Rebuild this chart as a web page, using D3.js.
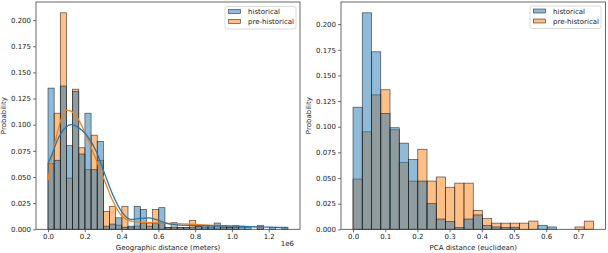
<!DOCTYPE html>
<html><head><meta charset="utf-8">
<script src="https://cdn.jsdelivr.net/npm/d3@7"></script>
<style>
body{margin:0;background:#fff}
svg text{font-family:"DejaVu Sans",sans-serif;fill:#222}
</style>
</head><body>
<svg id="c" width="608" height="253"></svg>
<script>
// ---------- data ----------
const seriesNames = ["historical", "pre-historical"];
const seriesColors = ["#1f77b4", "#ff7f0e"];

// Left: geographic distance (x 1e6 m), 39 equal bins over [0, geoMax]
const geoMax = 1.305;
const geoHist = [0.135,0.066,0.137,0.080,0.132,0.072,0.111,0.057,0.084,0.003,
  0.005,0.011,0.002,0.003,0.022,0.019,0.003,0.006,0.0207,0.0016,
  0.002,0.0016,0.0016,0.002,0.0025,0.0038,0.0038,0.006,0.0016,0.0016,
  0.0016,0.0016,0.0016,0,0.0025,0,0.0016,0,0.002];
const geoPre = [0.063,0.111,0.207,0.049,0.134,0.078,0.057,0.090,0.066,0.017,
  0.022,0.004,0.022,0.002,0.003,0.006,0.006,0.019,0.006,0.0016,
  0.0063,0.0016,0.0016,0.0083,0.0025,0.0016,0.0016,0.0038,0.0038,0.0016,
  0.0038,0,0,0,0.0038,0,0,0,0];
const geoKdeHistX = [0,0.027,0.05,0.075,0.1,0.127,0.16,0.21,0.264,0.3,0.35,0.4,0.45,0.5,0.55,0.6,0.65,0.7,0.8,0.9,1.0,1.1,1.2,1.305];
const geoKdeHistY = [0.063,0.074,0.085,0.093,0.098,0.100,0.098,0.090,0.074,0.057,0.034,0.017,0.0095,0.0105,0.011,0.0085,0.0055,0.0042,0.0036,0.0033,0.003,0.0025,0.002,0.0015];
const geoKdePreX = [0,0.025,0.05,0.075,0.1,0.125,0.155,0.21,0.245,0.3,0.35,0.4,0.45,0.5,0.6,0.7,0.8,0.9,1.0,1.1,1.17];
const geoKdePreY = [0.047,0.072,0.092,0.107,0.114,0.113,0.108,0.089,0.074,0.050,0.028,0.013,0.0078,0.0068,0.0062,0.0055,0.0048,0.0038,0.003,0.0025,0.002];
const geoXTicks = [0,0.2,0.4,0.6,0.8,1.0,1.2];
const geoYTicks = [0,0.025,0.05,0.075,0.1,0.125,0.15,0.175,0.2];

// Right: PCA distance, 26 equal bins over [0, pcaMax]
const pcaMax = 0.747;
const pcaHist = [0.119,0.211,0.173,0.113,0.099,0.084,0.068,0.047,0.025,0.010,
  0.0075,0.0016,0.010,0.014,0.0036,0.0023,0.0016,0.002,0,0,
  0.0039,0.0023,0,0,0,0];
const pcaPre = [0.049,0.095,0.131,0.136,0.097,0.065,0.047,0.078,0.047,0.051,
  0.041,0.045,0.045,0.0185,0.0104,0.006,0.006,0.006,0.006,0.008,
  0,0,0,0,0.0023,0.008];
const pcaXTicks = [0,0.1,0.2,0.3,0.4,0.5,0.6,0.7];
const pcaYTicks = [0,0.025,0.05,0.075,0.1,0.125,0.15,0.175,0.2];

// ---------- drawing ----------
const svg = d3.select("#c");

function panel(o) {
  const g = svg.append("g");
  const n = o.hist.length, bw = o.max / n;
  const x = d3.scaleLinear().domain([-0.05 * o.max, 1.05 * o.max]).range([o.x0, o.x1]);
  const yMax = d3.max(o.hist.concat(o.pre)) * 1.05;
  const y = d3.scaleLinear().domain([0, yMax]).range([o.y1, o.y0]);

  const layers = [{vals: o.pre, c: seriesColors[1]}, {vals: o.hist, c: seriesColors[0]}];
  layers.forEach(L => {
    g.append("g").selectAll("rect").data(L.vals.map((v, i) => ({v, i})).filter(d => d.v > 0))
      .join("rect")
      .attr("x", d => x(d.i * bw)).attr("width", d => x((d.i + 1) * bw) - x(d.i * bw))
      .attr("y", d => y(d.v)).attr("height", d => y(0) - y(d.v))
      .attr("fill", L.c).attr("fill-opacity", 0.5)
      .attr("stroke", "#1a1a1a").attr("stroke-opacity", 0.75).attr("stroke-width", 0.7);
  });

  if (o.kde) {
    const clipId = "clip" + o.x0;
    svg.append("clipPath").attr("id", clipId).append("rect")
      .attr("x", o.x0).attr("y", o.y0).attr("width", o.x1 - o.x0).attr("height", o.y1 - o.y0);
    o.kde.forEach(k => {
      const ln = d3.line().x(d => x(d[0])).y(d => y(d[1])).curve(d3.curveMonotoneX);
      g.append("path").datum(k.xs.map((v, i) => [v, k.ys[i]]))
        .attr("d", ln).attr("fill", "none").attr("stroke", k.c).attr("stroke-width", 1.3)
        .attr("clip-path", `url(#${clipId})`);
    });
  }

  // axes
  const ax = g.append("g").attr("transform", `translate(0,${o.y1})`)
    .call(d3.axisBottom(x).tickValues(o.xTicks).tickFormat(d3.format(".1f")).tickSize(3).tickPadding(2));
  const ay = g.append("g").attr("transform", `translate(${o.x0},0)`)
    .call(d3.axisLeft(y).tickValues(o.yTicks).tickFormat(d3.format(".3f")).tickSize(3).tickPadding(2));
  [ax, ay].forEach(a => {
    a.select(".domain").remove();
    a.selectAll("line").attr("stroke", "#333").attr("stroke-width", 0.7);
    a.selectAll("text").attr("font-size", 7).attr("fill", "#222");
  });
  // frame
  g.append("rect").attr("x", o.x0).attr("y", o.y0).attr("width", o.x1 - o.x0).attr("height", o.y1 - o.y0)
    .attr("fill", "none").attr("stroke", "#444").attr("stroke-width", 0.8);

  // labels
  g.append("text").attr("x", (o.x0 + o.x1) / 2).attr("y", 249.5).attr("text-anchor", "middle")
    .attr("font-size", 7).text(o.xLabel);
  g.append("text").attr("transform", `translate(${o.yLabelX},${(o.y0 + o.y1) / 2}) rotate(-90)`)
    .attr("text-anchor", "middle").attr("font-size", 7).text("Probability");
  if (o.offset) {
    g.append("text").attr("x", o.x1 - 6).attr("y", 245.5).attr("text-anchor", "end")
      .attr("font-size", 7).text(o.offset);
  }

  // legend
  const lg = g.append("g").attr("transform", `translate(${o.legX},${o.legY})`);
  lg.append("rect").attr("x", 0).attr("y", 0).attr("width", 71).attr("height", 22.5).attr("rx", 2)
    .attr("fill", "#fff").attr("fill-opacity", 0.8).attr("stroke", "#d0d0d0").attr("stroke-width", 0.8);
  seriesNames.forEach((s, i) => {
    lg.append("rect").attr("x", 3.5).attr("y", 3 + i * 10).attr("width", 12).attr("height", 4)
      .attr("fill", seriesColors[i]).attr("fill-opacity", 0.5)
      .attr("stroke", "#1a1a1a").attr("stroke-opacity", 0.75).attr("stroke-width", 0.7);
    lg.append("text").attr("x", 23).attr("y", 7.6 + i * 10).attr("font-size", 7).text(s);
  });
}

panel({x0: 36, x1: 300, y0: 2, y1: 229.3, max: geoMax, hist: geoHist, pre: geoPre,
  kde: [{xs: geoKdePreX, ys: geoKdePreY, c: seriesColors[1]}, {xs: geoKdeHistX, ys: geoKdeHistY, c: seriesColors[0]}],
  xTicks: geoXTicks, yTicks: geoYTicks, xLabel: "Geographic distance (meters)", offset: "1e6",
  yLabelX: 6, legX: 225, legY: 6.5});

panel({x0: 341, x1: 605.5, y0: 2, y1: 229.3, max: pcaMax, hist: pcaHist, pre: pcaPre,
  xTicks: pcaXTicks, yTicks: pcaYTicks, xLabel: "PCA distance (euclidean)",
  yLabelX: 311, legX: 530, legY: 6});
</script>
</body></html>
